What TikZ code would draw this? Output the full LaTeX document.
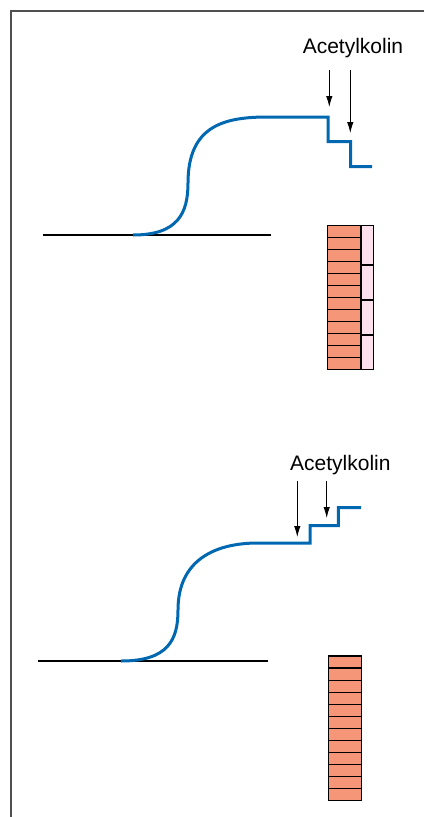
\documentclass[tikz,border=0pt]{standalone}
\usepackage{fontspec}
\setmainfont{Liberation Sans}
\usepackage{tikz}
\usetikzlibrary{arrows.meta}
\definecolor{emg}{RGB}{0,104,176}
\definecolor{fibre}{RGB}{246,150,120}
\definecolor{endplate}{RGB}{252,224,236}
\definecolor{framegray}{RGB}{80,80,80}

\begin{document}
\begin{tikzpicture}[x=1pt,y=-1pt,
	trace/.style={emg,line width=3pt,line join=miter},
	puff/.style={-{Latex[length=11pt,width=6.5pt]},line width=0.9pt},
	tag/.style={font=\fontsize{21}{24}\selectfont,anchor=base,inner sep=0pt},
	brick/.style={draw=black,line width=1.2pt}]
		\useasboundingbox (0,0) rectangle (424,817);
		% frame
		\draw[framegray,line width=2.4pt] (424,11) -- (11,11) -- (11,817);

		% upper: baseline and potential
		\draw[line width=1.2pt] (43,235) -- (271,235);
		\draw[trace] (133,235) .. controls (178,235) and (188,213) .. (188,183)
			.. controls (188,125) and (225,117) .. (268,117) -- (328,117)
			-- (328,141.5) -- (350.5,141.5) -- (350.5,166.5) -- (372,166.5);
		\node[tag] (ach1) at (353,53.5) {Acetylkolin};
		\coordinate (p1a) at (329.3,70);  \coordinate (q1a) at (329.3,107);
		\coordinate (p1b) at (350.3,70);  \coordinate (q1b) at (350.3,133);
		\draw[puff] (p1a) -- (q1a);
		\draw[puff] (p1b) -- (q1b);
		% upper: fibres with end plates
		\fill[endplate] (361,225.7) rectangle (373.3,369.3);
		\draw[brick] (361,225.7) rectangle (373.3,369.3);
		\draw[brick] (361,265) -- (373.3,265) (361,300) -- (373.3,300) (361,335) -- (373.3,335);
		\fill[fibre] (327.3,225.7) rectangle (361,369.3);
		\foreach \i in {1,...,11}
			\draw[brick] (327.3,225.7+\i*11.967) -- (361,225.7+\i*11.967);
		\draw[brick] (327.3,225.7) rectangle (361,369.3);

		% lower: baseline and potential
		\draw[line width=1.2pt] (38,661) -- (268,661);
		\draw[trace] (121,661) .. controls (168,661) and (178,640) .. (178,610)
			.. controls (178,560) and (215,543) .. (258,543) -- (310,543)
			-- (310,525.7) -- (338.3,525.7) -- (338.3,507.7) -- (361,507.7);
		\node[tag] (ach2) at (340.4,470) {Acetylkolin};
		\coordinate (p2a) at (297.3,481);  \coordinate (q2a) at (297.3,537);
		\coordinate (p2b) at (326.7,481);  \coordinate (q2b) at (326.7,518);
		\draw[puff] (p2a) -- (q2a);
		\draw[puff] (p2b) -- (q2b);
		% lower: fibres
		\fill[fibre] (328.3,656) rectangle (361.7,800.7);
		\foreach \i in {1,...,11}
			\draw[brick] (328.3,656+\i*12.058) -- (361.7,656+\i*12.058);
		\draw[brick] (328.3,656) rectangle (361.7,800.7);
	\end{tikzpicture}
\end{document}
